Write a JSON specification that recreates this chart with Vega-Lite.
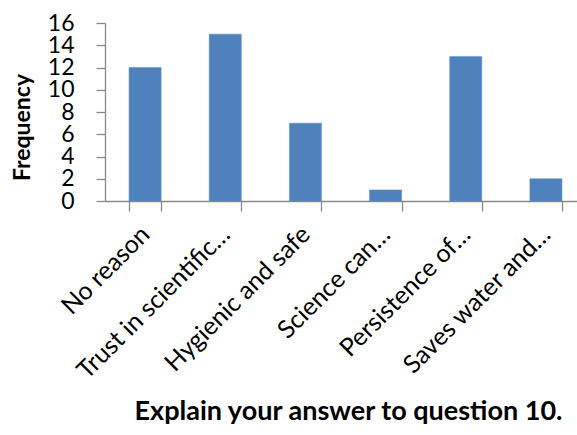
{
  "$schema": "https://vega.github.io/schema/vega-lite/v6.json",
  "width": 472,
  "height": 178,
  "autosize": {"type": "none"},
  "padding": {"left": 105, "top": 23, "right": 0, "bottom": 234},
  "background": "white",
  "config": {
    "view": {"stroke": null},
    "font": "Lato"
  },
  "data": {
    "values": [
      {"reason": "No reason", "frequency": 12},
      {"reason": "Trust in scientific…", "frequency": 15},
      {"reason": "Hygienic and safe", "frequency": 7},
      {"reason": "Science can…", "frequency": 1},
      {"reason": "Persistence of…", "frequency": 13},
      {"reason": "Saves water and…", "frequency": 2}
    ]
  },
  "mark": {"type": "bar", "color": "#4F81BD", "stroke": "#5B8CC6", "strokeWidth": 0.5},
  "encoding": {
    "x": {
      "field": "reason",
      "type": "nominal",
      "sort": null,
      "scale": {"range": [0, 481], "paddingInner": 0.6, "paddingOuter": 0.3},
      "axis": {
        "title": "Explain your answer to question 10.",
        "titleFontSize": 27,
        "titleFontWeight": "bold",
        "titleColor": "#000000",
        "titleX": 243,
        "titleY": 210,
        "titleAlign": "center",
        "titleBaseline": "middle",
        "labelAngle": -45,
        "labelAlign": "right",
        "labelBaseline": "middle",
        "labelFontSize": 25,
        "labelColor": "#000000",
        "labelLimit": 0,
        "labelPadding": 19,
        "labelOverlap": false,
        "tickBand": "extent",
        "tickSize": 10,
        "tickColor": "#898989",
        "domainColor": "#898989",
        "domainWidth": 1.3,
        "tickWidth": 1.3
      }
    },
    "y": {
      "field": "frequency",
      "type": "quantitative",
      "scale": {"domain": [0, 16]},
      "axis": {
        "title": "Frequency",
        "titleFontSize": 23,
        "titleFontWeight": "bold",
        "titleColor": "#000000",
        "titleX": -83,
        "titleY": 104,
        "titleAngle": -90,
        "titleAlign": "center",
        "titleBaseline": "middle",
        "values": [0, 2, 4, 6, 8, 10, 12, 14, 16],
        "labelFontSize": 23,
        "labelColor": "#000000",
        "labelPadding": 22,
        "labelOverlap": false,
        "labelFlush": false,
        "grid": false,
        "tickSize": 9,
        "tickColor": "#898989",
        "domainColor": "#898989",
        "domainWidth": 1.3,
        "tickWidth": 1.3
      }
    }
  }
}
